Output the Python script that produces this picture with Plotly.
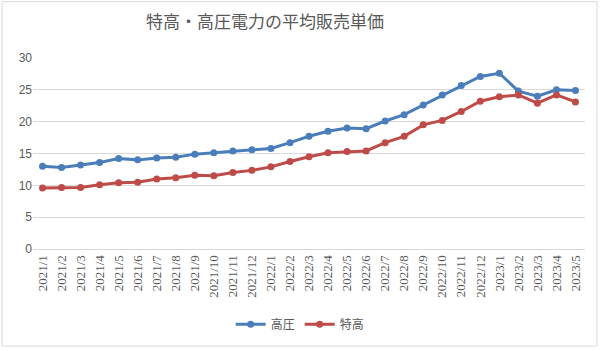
import plotly.graph_objects as go

months = ["2021/1","2021/2","2021/3","2021/4","2021/5","2021/6","2021/7","2021/8","2021/9","2021/10","2021/11","2021/12",
          "2022/1","2022/2","2022/3","2022/4","2022/5","2022/6","2022/7","2022/8","2022/9","2022/10","2022/11","2022/12",
          "2023/1","2023/2","2023/3","2023/4","2023/5"]
koatsu = [13.0,12.8,13.2,13.6,14.2,14.0,14.3,14.4,14.9,15.1,15.4,15.6,15.8,16.7,17.7,18.5,19.0,18.9,20.1,21.1,22.6,24.2,25.7,27.1,27.6,24.8,24.0,25.0,24.9]
tokko = [9.6,9.65,9.65,10.1,10.4,10.5,11.0,11.2,11.6,11.5,12.0,12.35,12.9,13.75,14.5,15.1,15.3,15.4,16.7,17.7,19.5,20.2,21.6,23.2,23.9,24.2,22.9,24.2,23.1]
yticks = [0,5,10,15,20,25,30]

jp = "Noto Sans CJK JP"
fig = go.Figure()
fig.add_trace(go.Scatter(x=months, y=koatsu, name="高圧", mode="lines+markers",
                         line=dict(color="#4a7ebb", width=3), marker=dict(size=7, color="#4a7ebb")))
fig.add_trace(go.Scatter(x=months, y=tokko, name="特高", mode="lines+markers",
                         line=dict(color="#be4b48", width=3), marker=dict(size=7, color="#be4b48")))

fig.update_layout(
    width=600, height=351,
    margin=dict(l=33, r=15, t=58, b=100),
    paper_bgcolor="white", plot_bgcolor="white",
    title=dict(text="特高・高圧電力の平均販売単価", x=265/600, xanchor="center", y=1-22/351, yanchor="middle",
               font=dict(family=jp, size=17, color="#595959")),
    xaxis=dict(type="category", range=[-0.5, 28.5], tickangle=-90, showgrid=False,
               showline=True, linecolor="#d9d9d9", ticks="",
               tickfont=dict(family="Liberation Serif", size=13, color="#595959")),
    yaxis=dict(range=[0, 30], tickvals=yticks, showgrid=True, gridcolor="#d9d9d9", gridwidth=1,
               zeroline=False, ticks="", tickfont=dict(family="Liberation Sans", size=12, color="#595959")),
    legend=dict(orientation="h", x=0.484, xanchor="center", y=-0.394, yanchor="middle",
                font=dict(family=jp, size=12, color="#595959"), itemwidth=30),
    showlegend=True,
)
fig.add_shape(type="rect", xref="paper", yref="paper", x0=-0.056, x1=1.0217, y0=-0.508, y1=1.295,
              line=dict(color="#d9d9d9", width=1), layer="below")
fig.write_html("out.html")
